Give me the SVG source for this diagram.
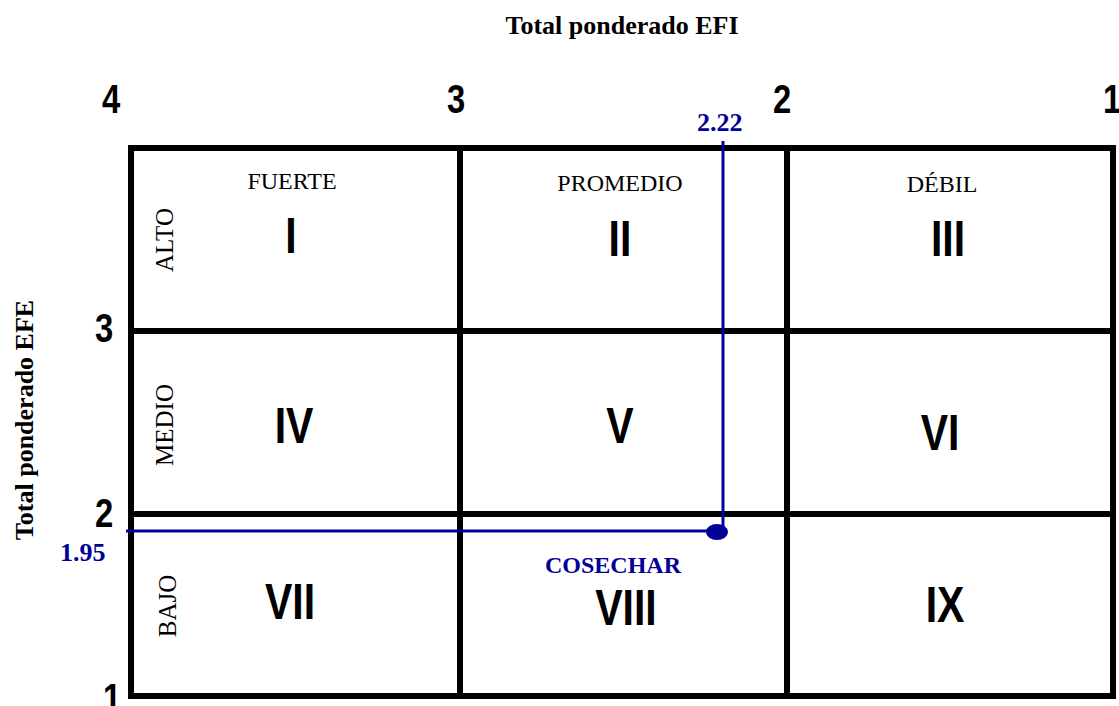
<svg xmlns="http://www.w3.org/2000/svg" width="1119" height="706" viewBox="0 0 1119 706">
<style>
.grid{fill:none;stroke:#000;stroke-width:6}
.num{font-family:"Liberation Sans",Arial,sans-serif;font-weight:bold;font-size:41px;fill:#000;text-anchor:middle}
.rom{font-family:"Liberation Sans",Arial,sans-serif;font-weight:bold;font-size:50px;fill:#000;text-anchor:middle}
.hdr{font-family:"Liberation Serif","Times New Roman",serif;font-size:24px;fill:#000;text-anchor:middle}
.row{font-family:"Liberation Serif","Times New Roman",serif;font-size:25px;fill:#000;text-anchor:middle}
.title{font-family:"Liberation Serif","Times New Roman",serif;font-weight:bold;font-size:26px;fill:#000;text-anchor:middle}
.blue{font-family:"Liberation Serif","Times New Roman",serif;font-weight:bold;font-size:26px;fill:#000099}
.blue.act{font-size:24px;text-anchor:middle}
.bl{stroke:#000099;stroke-width:3;fill:none}
</style>
<rect width="1119" height="706" fill="#fff"/>
<g id="titles">
<text class="title" x="622" y="34">Total ponderado EFI</text>
<text class="title" transform="translate(33,420) rotate(-90)">Total ponderado EFE</text>
</g>
<g id="axis">
<text class="num" transform="translate(111,113) scale(0.8,1)">4</text>
<text class="num" transform="translate(456,113) scale(0.8,1)">3</text>
<text class="num" transform="translate(782,113) scale(0.8,1)">2</text>
<text class="num" transform="translate(1112,113) scale(0.8,1)">1</text>
<text class="num" transform="translate(104,342) scale(0.8,1)">3</text>
<text class="num" transform="translate(104,527) scale(0.8,1)">2</text>
<text class="num" transform="translate(112,712) scale(0.8,1)">1</text>
</g>
<g id="grid">
<rect class="grid" x="131" y="148" width="982" height="548"/>
<line class="grid" x1="460" y1="148" x2="460" y2="696"/>
<line class="grid" x1="787" y1="148" x2="787" y2="696"/>
<line class="grid" x1="131" y1="331" x2="1113" y2="331"/>
<line class="grid" x1="131" y1="514" x2="1113" y2="514"/>
</g>
<g id="headers">
<text class="hdr" x="292" y="189">FUERTE</text>
<text class="hdr" x="620" y="191">PROMEDIO</text>
<text class="hdr" x="942" y="192">DÉBIL</text>
<text class="row" transform="translate(173,240) rotate(-90)">ALTO</text>
<text class="row" transform="translate(173,425) rotate(-90)">MEDIO</text>
<text class="row" transform="translate(176,606) rotate(-90)">BAJO</text>
</g>
<g id="cells">
<text class="rom" transform="translate(291,253) scale(0.82,1)">I</text>
<text class="rom" transform="translate(620,256) scale(0.82,1)">II</text>
<text class="rom" transform="translate(948,256) scale(0.82,1)">III</text>
<text class="rom" transform="translate(294,443) scale(0.82,1)">IV</text>
<text class="rom" transform="translate(620,443) scale(0.82,1)">V</text>
<text class="rom" transform="translate(940,450) scale(0.82,1)">VI</text>
<text class="rom" transform="translate(290,619) scale(0.82,1)">VII</text>
<text class="rom" transform="translate(626,625) scale(0.82,1)">VIII</text>
<text class="rom" transform="translate(945,622) scale(0.82,1)">IX</text>
</g>
<g id="connectors">
<line class="bl" x1="126" y1="531" x2="717" y2="531"/>
<line class="bl" x1="723" y1="141" x2="723" y2="532"/>
<ellipse cx="717" cy="532" rx="11" ry="8" fill="#000099"/>
</g>
<g id="labels">
<text class="blue" x="60" y="561">1.95</text>
<text class="blue" x="697" y="131">2.22</text>
<text class="blue act" x="613" y="573">COSECHAR</text>
</g>
</svg>
